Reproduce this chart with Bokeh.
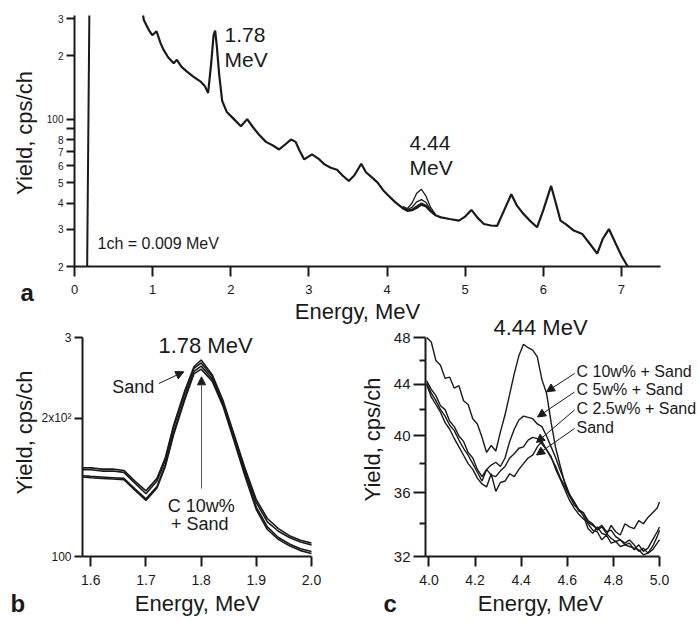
import math
from bokeh.plotting import figure
from bokeh.models import (FixedTicker, Label, Arrow, NormalHead, Range1d,
                          LinearAxis, LogAxis, LinearScale, LogScale)
from bokeh.embed import file_html
from bokeh.resources import INLINE

FONT = "Liberation Sans"
INK = "#1a1a1a"
W, H = 697, 619

# ---------------- data: panel a (full spectrum) ----------------
a_rise_energy = [0.162, 0.19]
a_rise_yield = [20, 310]
a_energy = [0.878, 0.887, 0.95, 0.995, 1.05, 1.10, 1.14,
            1.20, 1.27, 1.31, 1.37, 1.44, 1.52, 1.61, 1.67, 1.71, 1.75,
            1.78, 1.80, 1.82, 1.85, 1.89, 1.95, 2.04, 2.13, 2.21, 2.28,
            2.36, 2.45, 2.54, 2.62, 2.70, 2.77, 2.83, 2.88, 2.94, 3.04,
            3.12, 3.20, 3.28, 3.36, 3.43, 3.51, 3.58, 3.67, 3.73, 3.81,
            3.88, 3.95, 4.00, 4.10, 4.20, 4.26, 4.32, 4.38, 4.44, 4.50,
            4.56, 4.62, 4.69, 4.80, 4.92, 5.00, 5.08, 5.16, 5.24, 5.33,
            5.41, 5.50, 5.59, 5.66, 5.73, 5.82, 5.92, 6.00, 6.10, 6.16,
            6.22, 6.30, 6.39, 6.50, 6.60, 6.69, 6.76, 6.84, 6.92, 7.00,
            7.06, 7.08]
a_sand = [310, 295, 265, 250, 261, 230, 213,
          196, 184, 191, 177, 168, 159, 151, 143, 133, 185,
          250, 263, 225, 165, 122, 108, 100, 92.5, 100, 92,
          84.5, 78, 75, 71.8, 76, 80, 78, 71, 64.4, 68,
          65, 61, 58.8, 57.5, 54, 50.9, 54, 61.4, 56, 52.8,
          50, 46, 44, 40.5, 37.8, 36.7, 37.0, 38.0, 39.3, 38.5,
          36.5, 35.0, 34.2, 33.6, 33.0, 34.5, 37.1, 34, 31.8, 31.3,
          31.2, 37, 44, 39, 36.1, 33.2, 30.7, 37, 48.2, 40,
          33, 31.5, 29.6, 28.5, 25.5, 23.0, 27, 30.1, 26, 22.5,
          20.6, 20]
a_peak_energy = [4.20, 4.26, 4.32, 4.38, 4.44, 4.50, 4.56, 4.62]
a_c25 = [37.9, 36.9, 37.4, 38.7, 40.0, 39.0, 36.7, 35.0]
a_c5 = [38.1, 37.2, 38.2, 40.5, 41.5, 40.2, 37.0, 35.1]
a_c10 = [38.6, 37.6, 40.0, 44.5, 46.5, 43.0, 38.0, 35.3]
a_xticks = [0, 1, 2, 3, 4, 5, 6, 7]
a_xlabels = ["0", "1", "2", "3", "4", "5", "6", "7"]
a_yticks = [20, 30, 40, 50, 60, 70, 80, 100, 200, 300]
a_ylabels = ["2", "3", "4", "5", "6", "7", "8", "100", "2", "3"]
a_yminor = [90]

# ---------------- data: panel b (1.78 MeV) ----------------
b_energy = [1.585, 1.60, 1.62, 1.64, 1.66, 1.68, 1.70, 1.72, 1.735, 1.75,
            1.77, 1.787, 1.80, 1.82, 1.84, 1.86, 1.88, 1.90, 1.92, 1.94,
            1.96, 1.98, 2.00]
b_sand = [156, 156, 155, 155, 154, 146, 139, 148, 164, 193,
          229, 259, 268, 249, 218, 184, 155, 133, 121, 115,
          111, 108.5, 107]
b_c25 = [154.5, 154.5, 153.5, 153.5, 152.5, 144.5, 137, 146, 162, 191,
         226, 257, 264, 247, 216, 182, 153, 131, 119, 113.5,
         110, 107.5, 106]
b_c5 = [150, 149.5, 149, 148.5, 148, 140.5, 133.5, 142, 158.5, 186,
        221, 253, 260, 244, 214, 180, 151, 128, 116, 110,
        106.5, 104, 102.5]
b_c10 = [149, 148.5, 148, 147.5, 147, 139.5, 132.5, 141, 157, 184,
         219, 250, 256, 241, 212, 178, 149, 126.5, 114.5, 109,
         105.5, 103, 101.5]
b_xticks = [1.6, 1.7, 1.8, 1.9, 2.0]
b_xlabels = ["1.6", "1.7", "1.8", "1.9", "2.0"]
b_yticks = [100, 200, 300]
b_ylabels = ["100", "2x10\u00b2", "3"]

# ---------------- data: panel c (4.44 MeV) ----------------
c_energy = [3.99, 4.01, 4.03, 4.05, 4.07, 4.09,
            4.11, 4.13, 4.15, 4.17, 4.19,
            4.21, 4.23, 4.25, 4.27, 4.29,
            4.31, 4.33, 4.35, 4.37, 4.39,
            4.41, 4.43, 4.45, 4.47, 4.49,
            4.51, 4.53, 4.55, 4.57, 4.59,
            4.61, 4.63, 4.65, 4.67, 4.69,
            4.71, 4.73, 4.75, 4.77, 4.79,
            4.81, 4.83, 4.85, 4.87, 4.89,
            4.91, 4.93, 4.95, 4.97, 4.99,
            5.00]
c_c10 = [48.0, 47.6, 46.0, 45.6, 44.5, 44.6,
         43.7, 43.9, 42.7, 42.4, 41.3,
         40.9, 39.9, 38.8, 39.3, 38.9,
         40.3, 41.6, 43.2, 44.9, 46.4,
         47.4, 47.1, 46.9, 46.3, 44.4,
         43.3, 41.0, 39.1, 37.8, 36.6,
         35.8, 35.4, 34.9, 34.5, 33.7,
         33.4, 33.8, 33.4, 33.3, 33.9,
         33.5, 33.3, 34.0, 33.8, 33.7,
         34.2, 34.0, 34.4, 34.7, 35.0,
         35.4]
c_c5 = [44.3, 43.6, 43.1, 42.3, 42.0, 41.1,
        40.7, 40.0, 39.6, 38.8, 38.4,
        37.6, 37.1, 37.6, 37.9, 38.1,
        37.8, 38.4, 39.6, 40.5, 41.2,
        41.5, 41.4, 41.3, 40.9, 40.7,
        40.0, 39.2, 38.4, 37.5, 36.7,
        35.9, 35.4, 34.8, 34.7, 34.0,
        33.6, 33.5, 33.0, 33.3, 32.8,
        32.9, 32.6, 32.7, 32.8, 32.4,
        32.7, 32.3, 32.5, 33.0, 33.5,
        33.8]
c_c25 = [44.1, 43.3, 42.7, 42.0, 41.5, 40.8,
         40.4, 39.7, 39.1, 38.6, 38.0,
         37.4, 36.8, 37.6, 37.2, 37.1,
         37.5, 37.8, 38.4, 38.7, 39.1,
         39.2, 39.7, 39.9, 39.8, 39.4,
         39.0, 38.4, 37.8, 37.0, 36.4,
         35.8, 35.2, 34.9, 34.7, 34.2,
         34.0, 33.6, 33.8, 33.4, 33.1,
         32.9, 33.0, 32.7, 32.6, 32.5,
         32.4, 32.1, 32.2, 32.6, 33.2,
         33.6]
c_sand = [44.0, 43.0, 42.4, 41.8, 41.0, 40.5,
          39.8, 39.2, 38.6, 38.0, 37.6,
          37.0, 36.6, 36.4, 37.3, 36.1,
          36.7, 36.8, 37.3, 37.1, 37.6,
          38.0, 38.4, 38.6, 39.2, 39.6,
          39.0, 38.5, 37.6, 36.9, 36.2,
          35.5, 35.0, 34.6, 34.3, 34.1,
          33.9, 33.7, 33.9, 33.5, 33.6,
          33.2, 33.0, 32.8, 33.0, 32.7,
          32.3, 32.5, 32.2, 32.4, 32.8,
          33.0]
c_xticks = [4.0, 4.2, 4.4, 4.6, 4.8, 5.0]
c_xlabels = ["4.0", "4.2", "4.4", "4.6", "4.8", "5.0"]
c_yticks = [32, 36, 40, 44, 48]
c_ylabels = ["32", "36", "40", "44", "48"]
c_yminor = [34, 38, 42, 46]

# ---------------- panel geometry (pixel box of each plot area) ----------------
A_BOX = (74, 660, 15, 266)     # left, right, top, bottom
B_BOX = (82, 311, 337, 556)
C_BOX = (425, 659, 337, 556)
A_X, A_Y = (0, 7.5), (20, 310)
B_X, B_Y = (1.585, 2.0), (100, 300)
C_X, C_Y = (3.985, 5.0), (32, 48)


def canvas_ranges(box, xr, yr):
    """Extend a panel's ranges so that the panel lands on its pixel box
    while the whole canvas is the plotting frame."""
    L, R, T, B = box
    kx = (xr[1] - xr[0]) / (R - L)
    ly = math.log10(yr[1] / yr[0]) / (B - T)
    full_x = (xr[0] - L * kx, xr[0] + (W - L) * kx)
    full_y = (yr[0] * 10 ** ((B - H) * ly), yr[0] * 10 ** (B * ly))
    return full_x, full_y


def pixel_to_data(box, xr, yr):
    L, R, T, B = box
    kx = (xr[1] - xr[0]) / (R - L)
    ly = math.log10(yr[1] / yr[0]) / (B - T)
    return lambda px, py: (xr[0] + (px - L) * kx, yr[0] * 10 ** ((B - py) * ly))


ax_full, ay_full = canvas_ranges(A_BOX, A_X, A_Y)
bx_full, by_full = canvas_ranges(B_BOX, B_X, B_Y)
cx_full, cy_full = canvas_ranges(C_BOX, C_X, C_Y)
conv = pixel_to_data(A_BOX, A_X, A_Y)

p = figure(width=W, height=H, min_border=0,
           x_range=Range1d(*ax_full), y_range=Range1d(*ay_full),
           y_axis_type="log", x_axis_location=None, y_axis_location=None,
           output_backend="svg", toolbar_location=None, title=None)
p.outline_line_color = None
p.xgrid.visible = False
p.ygrid.visible = False
p.background_fill_color = "white"
p.border_fill_color = "white"
p.extra_x_ranges = {"b": Range1d(*bx_full), "c": Range1d(*cx_full)}
p.extra_y_ranges = {"b": Range1d(*by_full), "c": Range1d(*cy_full)}
p.extra_x_scales = {"b": LinearScale(), "c": LinearScale()}
p.extra_y_scales = {"b": LogScale(), "c": LogScale()}


def style_axis(ax, ticks, labels, size, tick_out, standoff, minor=None, minor_out=0):
    ax.ticker = FixedTicker(ticks=ticks, minor_ticks=minor or [])
    ax.major_label_overrides = {t: s for t, s in zip(ticks, labels)}
    ax.major_tick_in = 0
    ax.major_tick_out = tick_out
    ax.minor_tick_in = 0
    ax.minor_tick_out = minor_out
    ax.axis_line_width = 2
    ax.axis_line_color = INK
    ax.major_tick_line_width = 2
    ax.major_tick_line_color = INK
    ax.minor_tick_line_width = 2
    ax.minor_tick_line_color = INK
    ax.major_label_text_font = FONT
    ax.major_label_text_font_size = size
    ax.major_label_text_color = INK
    ax.major_label_standoff = standoff


def add_axes(name, xr, yr, xt, xl, yt, yl, xsize, ysize, ytick_out, yminor=None, yminor_out=0):
    kw = {} if name is None else dict(x_range_name=name, y_range_name=name)
    xa = LinearAxis(fixed_location=yr[0], bounds=xr, **kw)
    style_axis(xa, xt, xl, xsize, 10, 8)
    p.add_layout(xa, "below")
    ya = LogAxis(fixed_location=xr[0], bounds=yr, **kw)
    style_axis(ya, yt, yl, ysize, ytick_out, 3, minor=yminor, minor_out=yminor_out)
    p.add_layout(ya, "left")


def add_text(px, py, text, size, align="left", angle=0.0, style="normal"):
    """px, py: pixel position of the text's left/centre edge and vertical middle."""
    x, y = conv(px, py)
    p.add_layout(Label(x=x, y=y, text=text, text_font=FONT, text_font_size=size,
                       text_align=align, text_baseline="middle", angle=angle,
                       text_font_style=style, text_color=INK))


def add_arrow(start, end, color=INK):
    xs, ys = conv(*start)
    xe, ye = conv(*end)
    p.add_layout(Arrow(end=NormalHead(size=8, fill_color=INK, line_color=INK, line_width=1),
                       x_start=xs, y_start=ys, x_end=xe, y_end=ye,
                       line_color=color, line_width=1))


# ---------------- panel a ----------------
add_axes(None, A_X, A_Y, a_xticks, a_xlabels, a_yticks, a_ylabels, "13px", "10px", 8,
         yminor=a_yminor, yminor_out=8)
p.line(a_rise_energy, a_rise_yield, line_color=INK, line_width=2)
p.line(a_energy, a_sand, line_color=INK, line_width=2.2)
for ys in (a_c25, a_c5, a_c10):
    p.line(a_peak_energy, ys, line_color=INK, line_width=1.3)
add_text(224, 34.2, "1.78", "21px")
add_text(224, 59.2, "MeV", "21px")
add_text(409, 142.5, "4.44", "21px")
add_text(409, 167.2, "MeV", "21px")
add_text(97, 243.3, "1ch = 0.009 MeV", "16px")
add_text(20, 292, "a", "24px", style="bold")
add_text(357, 311, "Energy, MeV", "22px", align="center")
add_text(24, 132.5, "Yield, cps/ch", "22px", align="center", angle=math.pi / 2)

# ---------------- panel b ----------------
add_axes("b", B_X, B_Y, b_xticks, b_xlabels, b_yticks, b_ylabels, "14px", "12px", 8)
for ys in (b_sand, b_c25, b_c5, b_c10):
    p.line(b_energy, ys, line_color=INK, line_width=1.6, x_range_name="b", y_range_name="b")
add_text(205, 345, "1.78 MeV", "22px", align="center")
add_text(111.7, 386.3, "Sand", "18px")
add_text(200.7, 505.5, "C 10w%", "18px", align="center")
add_text(199.2, 523.8, "+ Sand", "18px", align="center")
add_arrow((158.3, 383), (183.3, 371.3))
add_arrow((201, 488), (201, 376.3), color="#555555")
add_text(10, 603, "b", "24px", style="bold")
add_text(197, 602.5, "Energy, MeV", "22px", align="center")
add_text(24, 432, "Yield, cps/ch", "22px", align="center", angle=math.pi / 2)

# ---------------- panel c ----------------
add_axes("c", C_X, C_Y, c_xticks, c_xlabels, c_yticks, c_ylabels, "14px", "15px", 12,
         yminor=c_yminor, yminor_out=6)
for ys in (c_sand, c_c25, c_c5, c_c10):
    p.line(c_energy, ys, line_color=INK, line_width=1.4, x_range_name="c", y_range_name="c")
add_text(540, 326.5, "4.44 MeV", "22px", align="center")
add_text(576, 370.8, "C 10w% + Sand", "16px")
add_text(576, 389.2, "C 5w% + Sand", "16px")
add_text(576, 407.5, "C 2.5w% + Sand", "16px")
add_text(576, 426.5, "Sand", "16px")
add_arrow((574, 373), (546, 391.3))
add_arrow((574, 391.5), (537, 416.5))
add_arrow((574, 409.5), (536, 442))
add_arrow((574, 428), (536, 454.5))
add_text(383, 603, "c", "24px", style="bold")
add_text(540, 602.5, "Energy, MeV", "22px", align="center")
add_text(372, 439, "Yield, cps/ch", "22px", align="center", angle=math.pi / 2)

open("out.html", "w").write(file_html(p, INLINE))
